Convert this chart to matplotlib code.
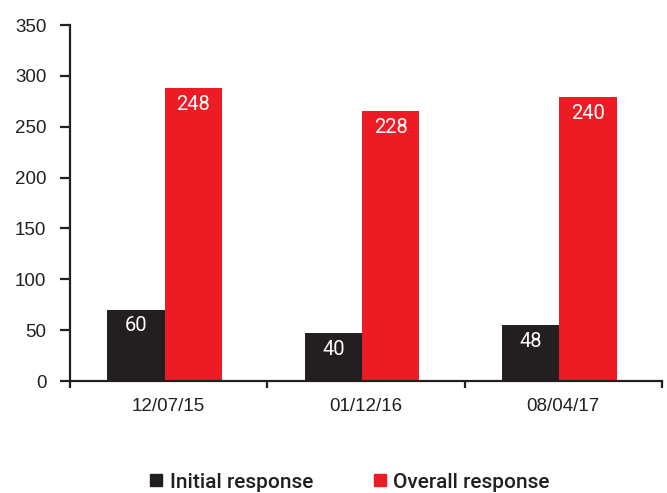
import matplotlib
matplotlib.use('Agg')
import numpy as np
from matplotlib import pyplot as plt
from matplotlib.lines import Line2D

# data (bar heights as drawn, labels as printed)
dates = ['12/07/15', '01/12/16', '08/04/17']
initial_height = [70, 47, 55]
overall_height = [288, 265, 279]
initial_label = ['60', '40', '48']
overall_label = ['248', '228', '240']
y_ticks = [0, 50, 100, 150, 200, 250, 300, 350]

black = '#231f20'
red = '#ed1c24'

fig = plt.figure(figsize=(6.67, 4.93), dpi=100)
ax = fig.add_axes([70 / 667, 112 / 493, 592 / 667, 356 / 493])

x = np.arange(len(dates))
w = 0.29
b1 = ax.bar(x - w / 2 - 0.02, initial_height, w, color=black)
b2 = ax.bar(x + w / 2 - 0.02, overall_height, w, color=red)

for bars, labels in ((b1, initial_label), (b2, overall_label)):
    for bar, lab in zip(bars, labels):
        ax.annotate(lab, (bar.get_x() + bar.get_width() / 2, bar.get_height()),
                    xytext=(0, -11.5), textcoords='offset points',
                    ha='center', va='center', color='white',
                    fontsize=14.5, family='Roboto')

ax.set_xlim(-0.5, 2.5)
ax.set_ylim(0, 350)
ax.set_yticks(y_ticks)
ax.set_yticklabels([str(t) for t in y_ticks], family='Liberation Sans', fontsize=13.5)
ax.set_xticks([-0.5, 0.5, 1.5, 2.5])
ax.set_xticklabels([])
ax.set_xticks(x, minor=True)
ax.set_xticklabels(dates, minor=True, family='Liberation Sans', fontsize=13.5)

for s in ('top', 'right'):
    ax.spines[s].set_visible(False)
for s in ('left', 'bottom'):
    ax.spines[s].set_color(black)
    ax.spines[s].set_linewidth(1.6)
ax.tick_params(axis='y', length=7, width=1.6, color=black, pad=10, labelcolor=black)
ax.tick_params(axis='x', which='major', length=5, width=1.6, color=black)
ax.tick_params(axis='x', which='minor', length=0, pad=12, labelcolor=black)

handles = [Line2D([], [], marker='s', ls='', color=black, markersize=8),
           Line2D([], [], marker='s', ls='', color=red, markersize=8)]
fig.legend(handles, ['Initial response', 'Overall response'], ncol=2,
           loc='center', bbox_to_anchor=(350 / 667, 11 / 493), frameon=False,
           prop={'family': 'Roboto', 'size': 15, 'weight': 'medium'},
           handlelength=0.6, handletextpad=0.35, columnspacing=2.9,
           labelcolor=black)

fig.savefig('out.png', dpi=100)
